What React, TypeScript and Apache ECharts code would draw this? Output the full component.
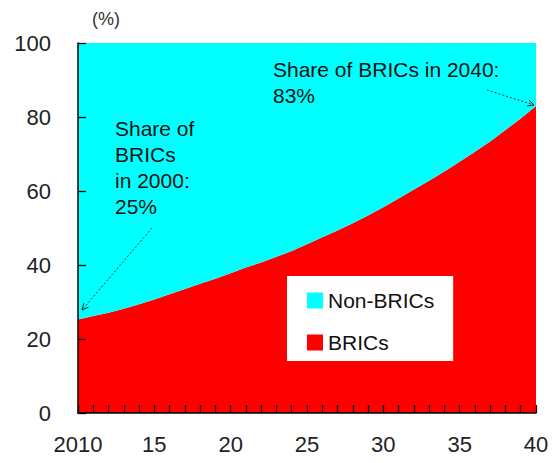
import React, { useEffect, useRef } from "react";
import * as echarts from "echarts";

const years = [
  "2010", "2011", "2012", "2013", "2014", "2015", "2016", "2017", "2018", "2019",
  "2020", "2021", "2022", "2023", "2024", "2025", "2026", "2027", "2028", "2029",
  "2030", "2031", "2032", "2033", "2034", "2035", "2036", "2037", "2038", "2039", "2040",
];
const bricsShare = [
  25.3, 26.2, 27.1, 28.2, 29.4, 30.7, 32.1, 33.5, 34.9, 36.3,
  37.8, 39.3, 40.7, 42.2, 43.8, 45.6, 47.5, 49.3, 51.3, 53.4,
  55.6, 58.0, 60.4, 62.8, 65.3, 67.9, 70.6, 73.4, 76.5, 79.6, 83.0,
];
const nonBricsShare = [
  74.7, 73.8, 72.9, 71.8, 70.6, 69.3, 67.9, 66.5, 65.1, 63.7,
  62.2, 60.7, 59.3, 57.8, 56.2, 54.4, 52.5, 50.7, 48.7, 46.6,
  44.4, 42.0, 39.6, 37.2, 34.7, 32.1, 29.4, 26.6, 23.5, 20.4, 17.0,
];
const xTickLabels: Record<string, string> = {
  "2010": "2010", "2015": "15", "2020": "20", "2025": "25", "2030": "30", "2035": "35", "2040": "40",
};
const seriesNames = ["Non-BRICs", "BRICs"];
const noteLeft = "Share of\nBRICs\nin 2000:\n25%";
const noteRight = "Share of BRICs in 2040:\n83%";

const FONT = "'Liberation Sans', Arial, sans-serif";

function arrow(x1: number, y1: number, x2: number, y2: number) {
  const dx = x2 - x1, dy = y2 - y1;
  const len = Math.sqrt(dx * dx + dy * dy);
  const ux = dx / len, uy = dy / len;
  const L = 7, a = 0.45;
  const rot = (ang: number) => [
    x2 - L * (ux * Math.cos(ang) - uy * Math.sin(ang)),
    y2 - L * (ux * Math.sin(ang) + uy * Math.cos(ang)),
  ];
  return [
    { type: "line", z: 100, shape: { x1, y1, x2, y2 }, style: { stroke: "#333", lineWidth: 1, lineDash: [2, 2] }, silent: true },
    { type: "polyline", z: 100, shape: { points: [rot(a), [x2, y2], rot(-a)] }, style: { stroke: "#222", lineWidth: 1, fill: "none" }, silent: true },
  ];
}

export default function App() {
  const ref = useRef<HTMLDivElement>(null);
  useEffect(() => {
    if (!ref.current) return;
    const chart = echarts.init(ref.current, null, { renderer: "svg" });
    chart.setOption({
      animation: false,
      backgroundColor: "#fff",
      grid: { left: 78, top: 43, right: 19, bottom: 50 },
      legend: {
        data: seriesNames,
        orient: "vertical",
        left: 287,
        top: 276,
        backgroundColor: "#fff",
        padding: [14, 19, 8, 20],
        itemGap: 21,
        itemWidth: 16,
        itemHeight: 16,
        icon: "rect",
        textStyle: { fontSize: 21, fontFamily: FONT, color: "#111" },
      },
      xAxis: {
        type: "category",
        data: years,
        boundaryGap: false,
        z: 10,
        axisLine: { lineStyle: { color: "#000", width: 1.5 } },
        axisTick: { inside: true, length: 8, interval: 0, lineStyle: { color: "#000", width: 1.3 } },
        axisLabel: {
          interval: 0,
          margin: 20,
          fontSize: 22,
          fontFamily: FONT,
          color: "#222",
          formatter: (v: string) => xTickLabels[v] || "",
        },
        splitLine: { show: false },
      },
      yAxis: {
        type: "value",
        min: 0,
        max: 100,
        interval: 20,
        z: 10,
        axisLine: { show: true, lineStyle: { color: "#000", width: 1.5 } },
        axisTick: { show: true, inside: true, length: 8, lineStyle: { color: "#000", width: 1.3 } },
        axisLabel: { margin: 27, fontSize: 22, fontFamily: FONT, color: "#222" },
        splitLine: { show: false },
      },
      series: [
        {
          name: "BRICs",
          type: "line",
          stack: "total",
          data: bricsShare,
          symbol: "none",
          lineStyle: { width: 0 },
          itemStyle: { color: "#ff0000" },
          areaStyle: { color: "#ff0000", opacity: 1 },
        },
        {
          name: "Non-BRICs",
          type: "line",
          stack: "total",
          data: nonBricsShare,
          symbol: "none",
          lineStyle: { width: 0 },
          itemStyle: { color: "#00ffff" },
          areaStyle: { color: "#00ffff", opacity: 1 },
        },
      ],
      graphic: [
        {
          type: "text",
          left: 92,
          top: 10,
          z: 100,
          style: { text: "(%)", fontSize: 18, fontFamily: FONT, fill: "#333" },
        },
        {
          type: "text",
          x: 115,
          y: 115,
          z: 100,
          style: { text: noteLeft, fontSize: 21, lineHeight: 26, fontFamily: FONT, fill: "#111", verticalAlign: "top" },
        },
        {
          type: "text",
          x: 273,
          y: 56,
          z: 100,
          style: { text: noteRight, fontSize: 21, lineHeight: 26, fontFamily: FONT, fill: "#111", verticalAlign: "top" },
        },
        ...arrow(152, 228, 82, 310),
        ...arrow(487, 90, 534, 105),
      ],
    });
    return () => chart.dispose();
  }, []);
  return <div ref={ref} style={{ position: "fixed", left: 0, top: 0, width: 555, height: 463 }} />;
}
